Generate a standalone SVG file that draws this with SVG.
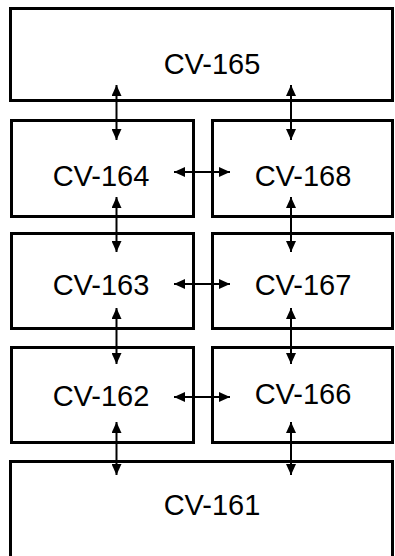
<svg xmlns="http://www.w3.org/2000/svg" width="395" height="556" viewBox="0 0 395 556">
<style>
.box{fill:#fff;stroke:#000;stroke-width:3}
.lbl{font-family:"Liberation Sans",Arial,sans-serif;font-size:29px;fill:#000;text-anchor:middle}
.con{stroke:#000;stroke-width:2;fill:none;marker-start:url(#ah);marker-end:url(#ah)}
</style>
<defs>
<marker id="ah" viewBox="0 0 10 10" refX="10" refY="5" markerWidth="11" markerHeight="10" markerUnits="userSpaceOnUse" orient="auto-start-reverse" preserveAspectRatio="none">
<path d="M0,0 L10,5 L0,10 z" fill="#000"/>
</marker>
</defs>
<g id="cv165"><rect class="box" x="10.5" y="8.5" width="382" height="92"/><text class="lbl" x="212" y="74">CV-165</text></g>
<g id="cv164"><rect class="box" x="11.5" y="120.5" width="182" height="96"/><text class="lbl" x="101" y="186">CV-164</text></g>
<g id="cv168"><rect class="box" x="212.5" y="120.5" width="180" height="96"/><text class="lbl" x="303" y="186">CV-168</text></g>
<g id="cv163"><rect class="box" x="11.5" y="233.5" width="182" height="95"/><text class="lbl" x="101" y="295">CV-163</text></g>
<g id="cv167"><rect class="box" x="212.5" y="233.5" width="180" height="95"/><text class="lbl" x="303" y="295">CV-167</text></g>
<g id="cv162"><rect class="box" x="11.5" y="347.5" width="182" height="95"/><text class="lbl" x="101" y="406">CV-162</text></g>
<g id="cv166"><rect class="box" x="212.5" y="347.5" width="180" height="95"/><text class="lbl" x="303" y="404">CV-166</text></g>
<g id="cv161"><rect class="box" x="10.5" y="461.5" width="382" height="100"/><text class="lbl" x="212" y="515">CV-161</text></g>
<g id="connectors">
<line class="con" x1="116.5" y1="85" x2="116.5" y2="140"/>
<line class="con" x1="291" y1="85" x2="291" y2="140"/>
<line class="con" x1="116.5" y1="197" x2="116.5" y2="252"/>
<line class="con" x1="291" y1="197" x2="291" y2="252"/>
<line class="con" x1="116.5" y1="308" x2="116.5" y2="364"/>
<line class="con" x1="291" y1="308" x2="291" y2="364"/>
<line class="con" x1="116.5" y1="422" x2="116.5" y2="475"/>
<line class="con" x1="291" y1="422" x2="291" y2="475"/>
<line class="con" x1="174" y1="172" x2="230" y2="172"/>
<line class="con" x1="174" y1="284" x2="230" y2="284"/>
<line class="con" x1="174" y1="397" x2="230" y2="397"/>
</g>
</svg>
